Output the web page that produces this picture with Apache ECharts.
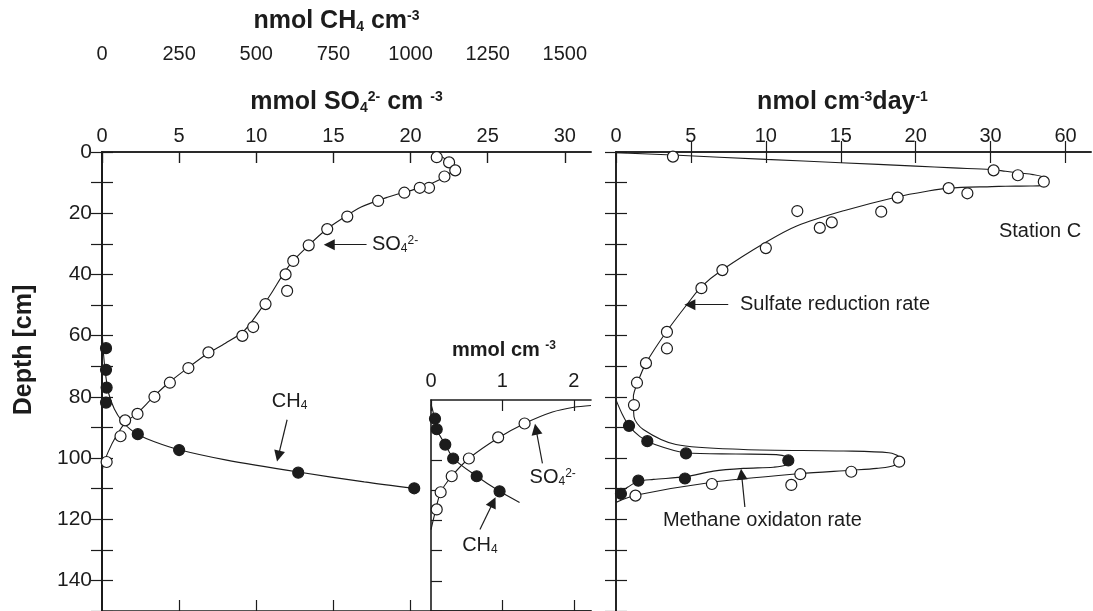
<!DOCTYPE html>
<html><head><meta charset="utf-8">
<script src="https://cdn.jsdelivr.net/npm/echarts@6/dist/echarts.min.js"></script>
<style>html,body{margin:0;padding:0;background:#fff}#c{width:1093px;height:611px}</style>
</head><body><div id="c"></div>
<script>
// ---------- data (value, depth in cm) ----------
// main left panel: sulfate (mmol cm-3) and methane (nmol cm-3)
const so4Obs = [[21.7,1.7],[22.5,3.4],[22.9,6.0],[22.2,8.0],[21.2,11.7],[20.6,11.7],[19.6,13.3],[17.9,16.0],[15.9,21.1],[14.6,25.2],[13.4,30.5],[12.4,35.6],[11.9,40.0],[12.0,45.4],[10.6,49.7],[9.8,57.2],[9.1,60.1],[6.9,65.5],[5.6,70.6],[4.4,75.4],[3.4,80.0],[2.3,85.6],[1.5,87.7],[1.2,92.9],[0.3,101.3]];
const so4Fit = [[21.6,0.3],[22.3,2.5],[22.8,5.5],[22.4,7.5],[21.4,10.2],[20.2,12.3],[18.5,14.8],[16.8,18],[15.5,22],[14.5,25.5],[13.4,30.5],[12.4,35.5],[11.8,39.5],[11.0,46],[10.2,52],[9.2,58.5],[8.0,62.5],[6.8,66],[5.5,70.8],[4.3,75.5],[3.3,80.2],[2.3,85.3],[1.5,88.5],[0.9,93],[0.4,98],[0.1,102],[0,105]];
const ch4Obs = [[13,64.1],[13,71.2],[15,77.0],[13,81.9],[116,92.2],[250,97.4],[636,104.8],[1012,109.9]];
const ch4Fit = [[0,58],[5,66],[12,73],[22,79],[40,84],[65,88],[90,90.5],[116,92.3],[170,94.7],[250,97.3],[400,100.6],[636,104.6],[850,107.8],[1012,109.9]];
// inset (mmol cm-3)
const insetCh4Obs = [[0.056,86.2],[0.08,89.7],[0.2,94.8],[0.31,99.4],[0.64,105.3],[0.96,110.3]];
const insetCh4Fit = [[0,81.5],[0.03,84],[0.08,89.7],[0.2,94.8],[0.32,99.5],[0.64,105.3],[0.96,110.3],[1.24,114]];
const insetSo4Obs = [[0.08,116.3],[0.135,110.6],[0.29,105.3],[0.53,99.4],[0.94,92.4],[1.31,87.8]];
const insetSo4Fit = [[0,123],[0.05,118],[0.135,110.6],[0.29,105.3],[0.53,99.4],[0.94,92.6],[1.31,87.8],[1.7,84],[2.0,82.4],[2.24,81.8]];
// right panel: rates (nmol cm-3 day-1)
const srrObs = [[3.8,1.5],[31.2,6.0],[40.9,7.6],[51.3,9.7],[24.4,11.8],[26.9,13.5],[18.8,14.9],[12.1,19.3],[17.7,19.5],[14.4,23.0],[13.6,24.8],[10.0,31.4],[7.1,38.6],[5.7,44.5],[3.4,58.8],[3.4,64.2],[2.0,69.0],[1.4,75.4],[1.2,82.7],[18.9,101.2],[15.7,104.5],[12.3,105.3],[11.7,108.8],[6.4,108.5],[1.3,112.3]];
const srrFit = [[0,0.2],[3.8,1.0],[10,2.4],[15,3.5],[20,4.6],[25,5.2],[30,5.7],[36,6.3],[42,6.9],[47,7.4],[50.5,8.0],[52.3,9.0],[52.3,10.0],[50.5,10.9],[46,11.1],[36,11.2],[30.5,11.3],[24.4,11.8],[21.5,12.8],[18.8,14.6],[15.2,19.2],[12.1,24.1],[10.0,29.5],[7.1,38.5],[5.7,44],[4.9,48.8],[3.4,58.5],[2.0,69],[1.44,75.4],[1.16,80],[1.2,86.5],[1.82,90.7],[4.0,95.6],[8.5,97.2],[15.2,97.7],[18.2,98.3],[18.9,99.8],[18.6,102.4],[17.4,103.4],[15.7,104.0],[12.3,105.1],[6.3,108],[1.3,112.2],[0,114.5]];
const moObs = [[0.87,89.5],[2.09,94.5],[4.67,98.5],[11.5,100.8],[4.6,106.7],[1.49,107.4],[0.33,111.7]];
const moFit = [[0,81],[0.4,85.5],[0.87,89.5],[1.6,93],[2.6,95.6],[4.67,98.3],[8,98.7],[10.7,98.9],[11.4,99.6],[11.6,100.8],[11.3,102.4],[10.5,103],[8.5,103.4],[6.5,104.3],[4.67,106.1],[2.5,107],[1.49,107.6],[0.8,109.5],[0.3,111.3],[0,112.3]];
// tick labels
const so4Ticks = [0,5,10,15,20,25,30];
const ch4Ticks = [0,250,500,750,1000,1250,1500];
const insetTicks = [0,1,2];
const rateTickValues = [0,5,10,15,20,30,60];   // broken axis: equal spacing between these
const depthLabels = [0,20,40,60,80,100,120,140];
const depthTicks = [0,10,20,30,40,50,60,70,80,90,100,110,120,130,140,150];

// ---------- helpers ----------
const RATE_STEP = 5;
function rateToAxis(v){
  const t = rateTickValues;
  for (let i=0;i<t.length-1;i++){ if (v<=t[i+1]) return (i+(v-t[i])/(t[i+1]-t[i]))*RATE_STEP; }
  const n=t.length-1; return (n-1+(v-t[n-1])/(t[n]-t[n-1]))*RATE_STEP;
}
const toRate = a => a.map(([v,d]) => [rateToAxis(v), d]);
const rateAxisTicks = rateTickValues.map((_,i)=>i*RATE_STEP);

const FONT = '"Liberation Sans", Arial, Helvetica, sans-serif';
const INK = '#1c1c1c';
const titleRich = {
  b:{fontSize:25,fontWeight:'bold',fontFamily:FONT,color:INK},
  sub:{fontSize:14,fontWeight:'bold',fontFamily:FONT,color:INK,verticalAlign:'bottom'},
  sup:{fontSize:14,fontWeight:'bold',fontFamily:FONT,color:INK,verticalAlign:'top'}
};
const insetRich = {
  b:{fontSize:20,fontWeight:'bold',fontFamily:FONT,color:INK},
  sup:{fontSize:12,fontWeight:'bold',fontFamily:FONT,color:INK,verticalAlign:'top'}
};
const annoRich = {
  t:{fontSize:20,fontFamily:FONT,color:INK},
  sub:{fontSize:12,fontFamily:FONT,color:INK,verticalAlign:'bottom'},
  sup:{fontSize:12,fontFamily:FONT,color:INK,verticalAlign:'top'}
};
const line = {lineStyle:{color:INK,width:1.6}};
const tickIn = (vals)=>({show:true,inside:true,length:11,lineStyle:{color:INK,width:1.2},customValues:vals});
const lbl = (vals,extra)=>Object.assign({show:true,fontSize:20,color:INK,fontFamily:FONT,margin:6,customValues:vals,formatter:v=>String(v)},extra||{});
const noLbl = {show:false};

const DEPTH_MAX = 150, TOP = 152, H = 465;

function fitSeries(data,xi,yi,extra){
  return Object.assign({type:'line',data,xAxisIndex:xi,yAxisIndex:yi,showSymbol:false,smooth:0.3,
    lineStyle:{color:INK,width:1.1},silent:true,z:2},extra||{});
}
function obsSeries(data,xi,yi,filled){
  return {type:'scatter',data,xAxisIndex:xi,yAxisIndex:yi,symbol:'circle',symbolSize:11,z:3,silent:true,
    itemStyle:{color:filled?INK:'#fff',borderColor:INK,borderWidth:1.2,opacity:1}};
}
function arrows(list){
  return {silent:true,symbol:['none','triangle'],symbolSize:11,label:{show:false},
    lineStyle:{color:INK,width:1.2,type:'solid'},itemStyle:{color:INK},
    data:list.map(([a,b])=>[{coord:a},{coord:b}])};
}
function texts(list){
  return {silent:true,symbol:'circle',symbolSize:0,
    data:list.map(([c,f,pos])=>({coord:c,label:{show:true,formatter:f,position:pos,distance:0,rich:annoRich}}))};
}
// vertical axes: ticks pointing into the plot box
const yTicks = {show:true,inside:false,length:-11,lineStyle:{color:INK,width:1.2},customValues:depthTicks};

const option = {
  animation:false,
  backgroundColor:'#fff',
  grid:[
    {left:102,top:TOP,width:489,height:H},
    {left:431,top:400,width:160,height:217},
    {left:616,top:TOP,width:475,height:H}
  ],
  xAxis:[
    {gridIndex:0,type:'value',position:'top',min:0,max:31.7,interval:5,axisLine:line,axisTick:tickIn(so4Ticks),
      axisLabel:lbl(so4Ticks),splitLine:{show:false},
      name:'{b|mmol SO}{sub|4}{sup|2-}{b| cm }{sup|-3}',nameLocation:'middle',nameGap:37,nameTextStyle:{rich:titleRich}},
    {gridIndex:0,type:'value',position:'top',offset:82,min:0,max:1585,interval:250,axisLine:line,axisTick:tickIn(ch4Ticks),
      axisLabel:lbl(ch4Ticks),splitLine:{show:false},
      name:'{b|nmol CH}{sub|4}{b| cm}{sup|-3}',nameLocation:'middle',nameGap:36,nameTextStyle:{rich:titleRich,padding:[0,20,0,0]}},
    {gridIndex:0,type:'value',position:'bottom',min:0,max:31.7,interval:5,axisLine:line,axisTick:tickIn([5,10,15,20]),
      axisLabel:noLbl,splitLine:{show:false}},
    {gridIndex:1,type:'value',position:'top',min:0,max:2.24,interval:1,axisLine:line,axisTick:tickIn(insetTicks),
      axisLabel:lbl(insetTicks,{margin:9}),splitLine:{show:false},
      name:'{b|mmol cm }{sup|-3}',nameLocation:'middle',nameGap:40,nameTextStyle:{rich:insetRich,padding:[0,14,0,0]}},
    {gridIndex:1,type:'value',position:'bottom',min:0,max:2.24,interval:1,axisLine:line,axisTick:tickIn([1,2]),
      axisLabel:noLbl,splitLine:{show:false}},
    {gridIndex:2,type:'value',position:'top',min:0,max:31.7,interval:5,axisLine:line,axisTick:tickIn(rateAxisTicks),
      axisLabel:lbl(rateAxisTicks,{formatter:v=>String(rateTickValues[Math.round(v/RATE_STEP)])}),splitLine:{show:false},
      name:'{b|nmol cm}{sup|-3}{b|day}{sup|-1}',nameLocation:'middle',nameGap:37,nameTextStyle:{rich:titleRich,padding:[0,22,0,0]}},
    {gridIndex:2,type:'value',position:'bottom',min:0,max:31.7,interval:5,axisLine:line,axisTick:tickIn(rateAxisTicks.slice(1)),
      axisLabel:noLbl,splitLine:{show:false}}
  ],
  yAxis:[
    {gridIndex:0,type:'value',inverse:true,min:0,max:DEPTH_MAX,interval:10,position:'left',axisLine:{lineStyle:{color:INK,width:2}},
      axisTick:yTicks,
      axisLabel:{show:true,fontSize:21,color:INK,fontFamily:FONT,margin:10,customValues:depthLabels},splitLine:{show:false}},
    {gridIndex:0,type:'value',inverse:true,min:0,max:DEPTH_MAX,interval:10,position:'right',axisLine:line,
      axisTick:yTicks,axisLabel:noLbl,splitLine:{show:false}},
    {gridIndex:1,type:'value',inverse:true,min:80,max:DEPTH_MAX,interval:10,position:'left',axisLine:line,
      axisTick:Object.assign({},yTicks,{customValues:depthTicks.filter(v=>v>80)}),axisLabel:noLbl,splitLine:{show:false}},
    {gridIndex:2,type:'value',inverse:true,min:0,max:DEPTH_MAX,interval:10,position:'left',axisLine:line,
      axisTick:yTicks,axisLabel:noLbl,splitLine:{show:false}},
    {gridIndex:2,type:'value',inverse:true,min:0,max:DEPTH_MAX,interval:10,position:'right',axisLine:line,
      axisTick:yTicks,axisLabel:noLbl,splitLine:{show:false}}
  ],
  graphic:[{type:'text',x:24,y:350,rotation:Math.PI/2,
    style:{text:'Depth [cm]',fontSize:25,fontWeight:'bold',fontFamily:FONT,fill:INK,align:'center',verticalAlign:'middle'}}],
  series:[
    fitSeries(so4Fit,0,0,{
      markLine:arrows([[[17.15,30.3],[14.73,30.3]],[[12.0,87.5],[11.43,99.4]]]),
      markPoint:texts([[[17.5,30.3],'{t|SO}{sub|4}{sup|2-}','right'],[[12.16,81.6],'{t|CH}{sub|4}','inside']])
    }),
    obsSeries(so4Obs,0,0,false),
    fitSeries(ch4Fit,1,0),
    obsSeries(ch4Obs,1,0,true),
    fitSeries(insetSo4Fit,3,2,{
      markLine:arrows([[[1.56,101],[1.47,89.7]],[[0.685,123],[0.87,113.9]]]),
      markPoint:texts([[[1.38,105.8],'{t|SO}{sub|4}{sup|2-}','right'],[[0.685,128.4],'{t|CH}{sub|4}','inside']])
    }),
    obsSeries(insetSo4Obs,3,2,false),
    fitSeries(insetCh4Fit,3,2),
    obsSeries(insetCh4Obs,3,2,true),
    fitSeries(toRate(srrFit),5,3,{
      markLine:arrows([[[rateToAxis(7.49),49.9],[rateToAxis(4.93),49.9]],[[rateToAxis(8.6),116],[rateToAxis(8.38),105.3]]]),
      markPoint:texts([[[rateToAxis(8.27),49.9],'{t|Sulfate reduction rate}','right'],
                       [[rateToAxis(3.13),120.5],'{t|Methane oxidaton rate}','right'],
                       [[rateToAxis(49.8),26.1],'{t|Station C}','inside']])
    }),
    obsSeries(toRate(srrObs),5,3,false),
    fitSeries(toRate(moFit),5,3),
    obsSeries(toRate(moObs),5,3,true)
  ]
};
echarts.init(document.getElementById('c'),null,{renderer:'canvas'}).setOption(option);
</script></body></html>
